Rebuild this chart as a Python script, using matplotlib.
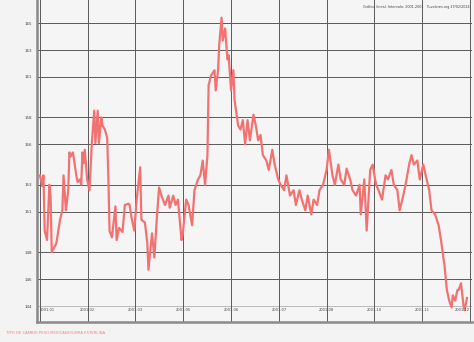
import matplotlib
matplotlib.use("Agg")
import matplotlib.pyplot as plt
import matplotlib.transforms as mtransforms

# dias desde el 1 de enero de 2001 y valor del tipo de cambio
dias = [0, 2, 3, 4, 6, 8, 9, 10, 13, 14,
        17, 19, 20, 22, 24, 25, 26, 28, 31, 32,
        34, 35, 36, 37, 38, 40, 42, 44, 46, 47,
        49, 50, 52, 53, 55, 57, 58, 59, 61, 64,
        65, 67, 70, 72, 75, 76, 78, 80, 82, 85,
        86, 89, 91, 92, 95, 97, 99, 101, 103, 106,
        109, 110, 113, 115, 117, 120, 121, 124, 126, 129,
        131, 134, 136, 138, 140, 142, 143, 145, 148, 149,
        151, 152, 154, 155, 157, 159, 160, 162, 164, 165,
        168, 170, 172, 174, 176, 178, 181, 183, 185, 187,
        189, 192, 194, 197, 199, 202, 204, 207, 209, 212,
        215, 217, 220, 222, 225, 227, 230, 232, 235, 237,
        240, 243, 245, 248, 250, 253, 255, 258, 260, 263,
        265, 268, 271, 272, 275, 277, 280, 282, 285, 287,
        290, 293, 295, 298, 300, 303, 305, 308, 310, 313,
        315, 317, 320, 322, 325, 327, 330, 332, 335, 338,
        340, 343, 345, 347, 349, 350, 352, 354, 355, 357,
        359, 360, 362]

valores = [153.7, 152.9, 153.7, 149.6, 148.9, 153.0, 152.2, 148.0, 148.5, 148.7,
           150.4, 151.1, 153.7, 151.1, 152.6, 155.4, 155.1, 155.4, 153.6, 153.2,
           153.4, 153.0, 155.4, 154.6, 155.6, 153.4, 152.6, 156.1, 158.5, 156.1,
           158.5, 156.1, 158.0, 157.4, 157.1, 156.5, 153.6, 149.6, 149.1, 151.4,
           148.9, 149.8, 149.5, 151.5, 151.6, 151.5, 150.4, 149.6, 151.9, 154.3,
           150.4, 150.2, 148.7, 146.7, 149.4, 147.6, 150.4, 152.8, 152.2, 151.5,
           152.2, 151.3, 152.2, 151.5, 151.9, 148.9, 149.3, 151.9, 151.5, 150.0,
           152.6, 153.4, 153.7, 154.8, 153.0, 155.2, 160.4, 161.1, 161.5, 160.0,
           161.5, 163.4, 165.4, 163.7, 164.6, 162.3, 162.6, 160.0, 161.5, 159.3,
           157.4, 157.1, 157.8, 156.0, 157.8, 156.3, 158.2, 157.4, 156.3, 156.7,
           155.2, 154.8, 154.1, 155.6, 154.5, 153.4, 153.0, 152.6, 153.7, 152.2,
           152.6, 151.5, 152.6, 151.9, 151.1, 152.2, 150.8, 151.9, 151.5, 152.6,
           153.0, 154.1, 155.6, 153.7, 153.0, 154.5, 153.4, 153.0, 154.2, 153.4,
           152.6, 152.2, 153.0, 150.8, 153.4, 149.6, 154.1, 154.5, 153.0, 152.6,
           151.9, 153.7, 153.4, 154.1, 153.0, 152.6, 151.1, 152.2, 153.0, 154.5,
           155.2, 154.5, 154.8, 153.4, 154.5, 153.7, 152.6, 151.1, 150.8, 150.0,
           148.9, 147.0, 145.2, 144.4, 143.9, 144.8, 144.4, 145.2, 145.2, 145.7,
           144.1, 143.7, 144.6]

yticks = [144, 146, 148, 151, 153, 156, 158, 161, 163, 165]
xticks = [0, 40.5, 81, 121.5, 162, 202.5, 243, 283.5, 324, 364.5]
xlabels = ["2001-01", "2001-02", "2001-03", "2001-05", "2001-06",
           "2001-07", "2001-08", "2001-10", "2001-11", "2001-12"]

fig = plt.figure(figsize=(4.74, 3.42), dpi=100, facecolor="#f3f3f3")
ax = fig.add_axes([37 / 474, 20 / 342, 435 / 474, 322 / 342])
ax.set_facecolor("#f5f5f5")

ax.plot(dias, valores, color="#f27272", linewidth=1.6, solid_joinstyle="round", zorder=3)

ax.set_xlim(-2.5, 366.3)
ax.set_ylim(142.82, 166.71)

ax.set_yticks(yticks)
ax.set_yticklabels([str(v) for v in yticks], fontsize=2.9, color="#444444")
ax.set_xticks(xticks)
ax.set_xticklabels([])
ax.tick_params(length=0, pad=3.5)

for v in yticks:
    ax.axhline(v, color="#bbbbbb" if v == 144 else "#5a5a5a", linewidth=0.7, zorder=1)
for x in xticks:
    ax.axvline(x, color="#5a5a5a", linewidth=0.7, zorder=1)

trans = mtransforms.blended_transform_factory(ax.transData, ax.transAxes)
for i, (x, lab) in enumerate(zip(xticks, xlabels)):
    ha = "left" if i == 0 else ("right" if i == len(xticks) - 1 else "center")
    ax.text(x, 0.037, lab, transform=trans, fontsize=2.6, color="#444444",
            ha=ha, va="center", zorder=4)

for s in ["top", "right"]:
    ax.spines[s].set_visible(False)
for s in ["left", "bottom"]:
    ax.spines[s].set_color("#8a8a8a")
    ax.spines[s].set_linewidth(1.8)

ax.text(0.995, 0.978, "Gráfica lineal. Intervalo: 2001-2001   Tuvalores.org 27/02/2024",
        transform=ax.transAxes, fontsize=2.4, color="#444444", ha="right", va="center")

fig.text(6 / 474, 1 - 333 / 342, "TIPO DE CAMBIO PESO MEXICANO/LIBRA ESTERLINA",
         fontsize=2.7, color="#f08080", ha="left", va="center")

fig.savefig("out.png", dpi=100, facecolor=fig.get_facecolor())
